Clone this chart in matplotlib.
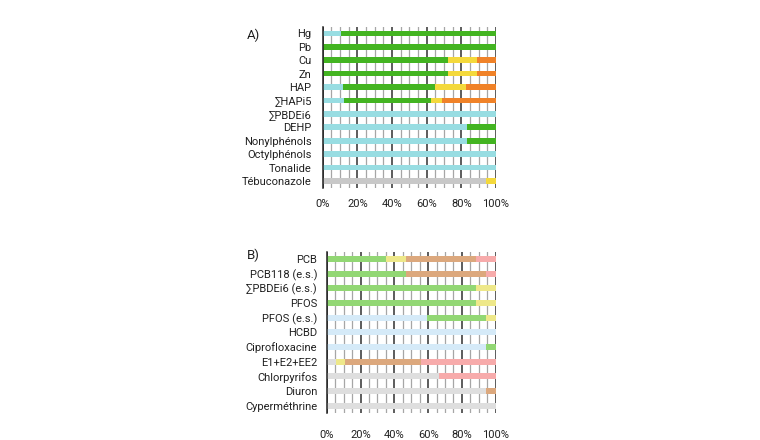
import matplotlib.pyplot as plt
import numpy as np
from matplotlib.ticker import MultipleLocator, PercentFormatter

plt.rcParams['font.family'] = ['Roboto', 'DejaVu Sans']

# Panel A
cats_a = ['Hg', 'Pb', 'Cu', 'Zn', 'HAP', '∑HAPi5', '∑PBDEi6', 'DEHP',
          'Nonylphénols', 'Octylphénols', 'Tonalide', 'Tébuconazole']
a_grey = [0, 0, 0, 0, 0, 0, 0, 0, 0, 0, 0, 94.2]
a_cyan = [10.8, 0, 0, 0, 11.5, 12.3, 100, 83.5, 83.5, 100, 100, 0]
a_green = [89.2, 100, 72.2, 72.2, 53.1, 50.0, 0, 16.5, 16.5, 0, 0, 0]
a_yellow = [0, 0, 16.7, 16.7, 18.1, 6.5, 0, 0, 0, 0, 0, 5.8]
a_orange = [0, 0, 11.1, 11.1, 17.3, 31.2, 0, 0, 0, 0, 0, 0]

# Panel B
cats_b = ['PCB', 'PCB118 (e.s.)', '∑PBDEi6 (e.s.)', 'PFOS', 'PFOS (e.s.)', 'HCBD',
          'Ciprofloxacine', 'E1+E2+EE2', 'Chlorpyrifos', 'Diuron', 'Cyperméthrine']
b_grey = [0, 0, 0, 0, 0, 0, 0, 5.5, 66.7, 94.3, 100]
b_blue = [0, 0, 0, 0, 59.4, 100, 94.3, 0, 0, 0, 0]
b_green = [35.1, 46.9, 88.4, 88.4, 34.9, 0, 5.7, 0, 0, 0, 0]
b_yellow = [11.8, 0, 11.6, 11.6, 5.7, 0, 0, 5.5, 0, 0, 0]
b_tan = [41.5, 47.4, 0, 0, 0, 0, 0, 44.8, 0, 5.7, 0]
b_pink = [11.6, 5.7, 0, 0, 0, 0, 0, 44.2, 33.3, 0, 0]

colors_a = ['#c8c8c8', '#98dde2', '#43b421', '#f4d93c', '#f08228']
colors_b = ['#dedede', '#d5eaf8', '#92d774', '#eee88a', '#dca87d', '#f7abab']


def draw_panel(ax, cats, series, colors, bar_h, lab_pad, x_pad):
    y = np.arange(len(cats))
    left = np.zeros(len(cats))
    for vals, col in zip(series, colors):
        vals = np.array(vals, dtype=float)
        ax.barh(y, vals, left=left, height=bar_h, color=col, zorder=3)
        left += vals
    ax.set_xlim(0, 100)
    ax.set_ylim(len(cats) - 0.5, -0.5)
    ax.set_yticks(y)
    ax.set_yticklabels(cats)
    ax.xaxis.set_major_locator(MultipleLocator(20))
    ax.xaxis.set_minor_locator(MultipleLocator(5))
    ax.xaxis.set_major_formatter(PercentFormatter(decimals=0))
    ax.grid(which='minor', axis='x', color='#a6a6a6', linewidth=0.9, zorder=1)
    ax.grid(which='major', axis='x', color='#303030', linewidth=1.1, zorder=2)
    ax.tick_params(axis='both', which='both', length=0, labelsize=8.0, labelcolor='#202020')
    ax.tick_params(axis='y', pad=lab_pad)
    ax.tick_params(axis='x', pad=x_pad)
    for s in ['top', 'right', 'bottom']:
        ax.spines[s].set_visible(False)
    ax.spines['left'].set_color('#202020')
    ax.spines['left'].set_linewidth(1.1)
    ax.spines['left'].set_zorder(4)


fig = plt.figure(figsize=(7.6, 4.4), dpi=100)
ax_a = fig.add_axes([0.4246, 0.5734, 0.2280, 0.3661])
ax_b = fig.add_axes([0.4299, 0.0614, 0.2224, 0.3666])

draw_panel(ax_a, cats_a, [a_grey, a_cyan, a_green, a_yellow, a_orange], colors_a, 0.42, 8, 8)
draw_panel(ax_b, cats_b, [b_grey, b_blue, b_green, b_yellow, b_tan, b_pink], colors_b, 0.40, 7, 12)

fig.text(247 / 760, 1 - 35 / 440, 'A)', fontsize=9.5, va='center', ha='left', color='#202020')
fig.text(247 / 760, 1 - 255 / 440, 'B)', fontsize=9.5, va='center', ha='left', color='#202020')

fig.savefig('out.png', dpi=100, facecolor='white')
